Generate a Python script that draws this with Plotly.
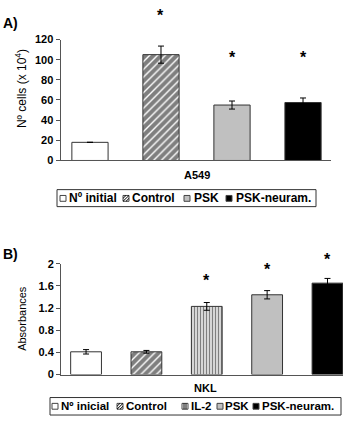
import plotly.graph_objects as go

# ---------------- data ----------------
a_categories = ["Nº initial", "Control", "PSK", "PSK-neuram."]
a_values = [18, 105, 55, 57.5]
a_errors = [0, 8.5, 4, 4.5]
a_star_levels = [None, 144, 102, 102]
a_ticks = [0, 20, 40, 60, 80, 100, 120]
a_group = "A549"
a_ytitle = "Nº cells (x 10<sup>4</sup>)"

b_categories = ["Nº inicial", "Control", "IL-2", "PSK", "PSK-neuram."]
b_values = [0.41, 0.41, 1.23, 1.44, 1.65]
b_errors = [0.04, 0.025, 0.07, 0.075, 0.085]
b_star_levels = [None, None, 1.70, 1.895, 2.08]
b_ticks = [0, 0.4, 0.8, 1.2, 1.6, 2]
b_group = "NKL"
b_ytitle = "Absorbances"

# ---------------- styles ----------------
W, H = 343, 422
FONT = "Liberation Sans, Arial, sans-serif"
AXC = "#555555"
STYLE = {  # fill, pattern
    "plain": ("white", ""),
    "hatch": ("white", "/"),
    "vert": ("white", "|"),
    "grey": ("#c0c0c0", ""),
    "black": ("black", ""),
}
a_styles = ["plain", "hatch", "grey", "black"]
b_styles = ["plain", "hatch", "vert", "grey", "black"]

A_DOM_X = (60.5, 331)
A_DOM_Y = (159, 34.5)
B_DOM_X = (61, 343)
B_DOM_Y = (379.3, 265.3)


def X(px):
    return px / W


def Y(py):
    return 1 - py / H


fig = go.Figure()


def add_bars(cats, vals, errs, styles, xa, ya):
    for c, v, e, s in zip(cats, vals, errs, styles):
        fill, pat = STYLE[s]
        marker = dict(color=fill, line=dict(color="#333333", width=1))
        if pat == "/":
            marker["pattern"] = dict(shape=pat, fgcolor="black", bgcolor="white",
                                     size=5.5, solidity=0.75, fillmode="overlay")
        elif pat == "|":
            marker["pattern"] = dict(shape=pat, fgcolor="black", bgcolor="white",
                                     size=3, solidity=0.55, fillmode="overlay")
        fig.add_trace(go.Bar(
            x=[c], y=[v], xaxis=xa, yaxis=ya, width=0.51, marker=marker,
            error_y=dict(type="data", array=[e], color="black", thickness=1, width=3),
            showlegend=False, hoverinfo="skip",
        ))


add_bars(a_categories, a_values, a_errors, a_styles, "x", "y")
add_bars(b_categories, b_values, b_errors, b_styles, "x2", "y2")


def fmt(t):
    return str(int(t)) if t == int(t) else str(t)


tickfont = dict(family=FONT, size=11, color="black")
common_x = dict(showticklabels=False, showline=True, linecolor=AXC, linewidth=1,
                ticks="", showgrid=False, zeroline=False, fixedrange=True)
common_y = dict(showline=True, linecolor=AXC, linewidth=1, ticks="outside",
                ticklen=4, tickcolor=AXC, tickfont=tickfont, showgrid=False,
                zeroline=False, fixedrange=True)

fig.update_layout(
    width=W, height=H, autosize=False, barmode="overlay",
    margin=dict(l=0, r=0, t=0, b=0),
    paper_bgcolor="white", plot_bgcolor="white",
    showlegend=False,
    xaxis=dict(domain=[X(A_DOM_X[0]), X(A_DOM_X[1])], range=[-0.415, 3.394],
               anchor="y", **common_x),
    yaxis=dict(domain=[Y(A_DOM_Y[0]), Y(A_DOM_Y[1])], range=[0, 120],
               tickvals=a_ticks, ticktext=[f"<b>{fmt(t)}</b>" for t in a_ticks],
               anchor="x", **common_y),
    xaxis2=dict(domain=[X(B_DOM_X[0]), 1.0], range=[-0.415, 4.257], anchor="y2",
                **common_x),
    yaxis2=dict(domain=[Y(B_DOM_Y[0]), Y(B_DOM_Y[1])], range=[0, 2],
                tickvals=b_ticks, ticktext=[f"<b>{fmt(t)}</b>" for t in b_ticks],
                anchor="x2", **common_y),
)

ann = []
shapes = []


def text(t, px, py, size, xanchor="center", angle=0):
    ann.append(dict(text=t, x=X(px), y=Y(py), xref="paper", yref="paper",
                    xanchor=xanchor, yanchor="middle", textangle=angle,
                    showarrow=False, borderpad=0,
                    font=dict(family=FONT, size=size, color="black")))


# panel labels
text("<b>A)</b>", 2, 18, 14, "left")
text("<b>B)</b>", 2, 255, 14, "left")

# y titles
text(a_ytitle, 21, 85.5, 12, angle=-90)
text(b_ytitle, 22, 322, 11, angle=-90)

# group labels
text(f"<b>{a_group}</b>", 197, 174, 11)
text(f"<b>{b_group}</b>", 206, 393, 11)


# significance stars (y mapped from the axis value to paper so they may sit above the frame)
def stars(cats, levels, xa, ymax, dom_y):
    for c, lv in zip(cats, levels):
        if lv is None:
            continue
        py = dom_y[0] + (dom_y[1] - dom_y[0]) * lv / ymax
        ann.append(dict(text="<b>*</b>", x=c, y=Y(py), xref=xa, yref="paper",
                        xanchor="center", yanchor="middle", showarrow=False,
                        font=dict(family=FONT, size=16, color="black")))


stars(a_categories, a_star_levels, "x", 120, A_DOM_Y)
stars(b_categories, b_star_levels, "x2", 2, B_DOM_Y)


# legends (drawn manually to keep the compact original look)
def legend(cats, styles, sym_lefts, text_lefts, box, yc, size):
    x0, x1, y0, y1 = box
    shapes.append(dict(type="rect", xref="paper", yref="paper",
                       x0=X(x0), x1=X(x1), y0=Y(y1), y1=Y(y0),
                       line=dict(color="#333333", width=1), fillcolor="white"))
    s = 6
    for c, st, sx, tx in zip(cats, styles, sym_lefts, text_lefts):
        fill, pat = STYLE[st]
        top, bot = yc - s / 2, yc + s / 2
        shapes.append(dict(type="rect", xref="paper", yref="paper",
                           x0=X(sx), x1=X(sx + s), y0=Y(bot), y1=Y(top),
                           line=dict(color="#444444", width=1), fillcolor=fill))
        if pat == "/":
            path = (f"M{X(sx)},{Y(bot)} L{X(sx + s)},{Y(top)} "
                    f"M{X(sx)},{Y(bot - 3)} L{X(sx + 3)},{Y(top)} "
                    f"M{X(sx + 3)},{Y(bot)} L{X(sx + s)},{Y(bot - 3)}")
            shapes.append(dict(type="path", xref="paper", yref="paper", path=path,
                               line=dict(color="black", width=1)))
        elif pat == "|":
            path = (f"M{X(sx + 2)},{Y(bot)} L{X(sx + 2)},{Y(top)} "
                    f"M{X(sx + 4)},{Y(bot)} L{X(sx + 4)},{Y(top)}")
            shapes.append(dict(type="path", xref="paper", yref="paper", path=path,
                               line=dict(color="black", width=1)))
        text(f"<b>{c}</b>", tx, yc, size, "left")


legend(a_categories, a_styles, [60, 123, 184, 226], [68, 131, 193, 235],
       (57, 316, 189, 206.5), 198, 12)
legend(b_categories, b_styles, [52, 117, 182, 217, 253], [60, 125, 190, 224, 261],
       (50, 341, 403, 421), 412, 11.5)

fig.update_layout(annotations=ann, shapes=shapes)
fig.write_html("out.html")
